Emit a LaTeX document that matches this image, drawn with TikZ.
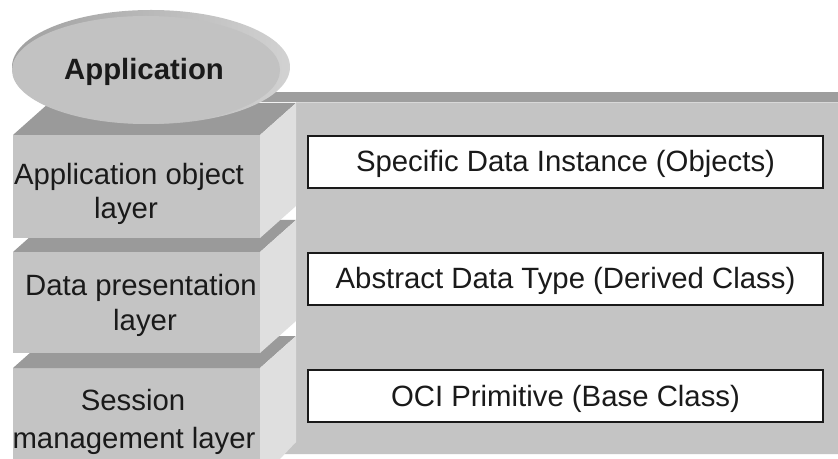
\documentclass[tikz,border=0pt]{standalone}
\usepackage{fontspec}
\setmainfont{Liberation Sans}
\definecolor{facegray}{HTML}{C4C4C4}
\definecolor{topgray}{HTML}{9A9A9A}
\definecolor{sidegray}{HTML}{DFDFDF}
\definecolor{stripgray}{HTML}{9E9E9E}
\definecolor{ellgray}{HTML}{C2C2C2}
\definecolor{rimdark}{HTML}{A0A0A0}
\definecolor{rimlight}{HTML}{D2D2D2}
\definecolor{inkcol}{HTML}{1A1A1A}
\begin{document}
\begin{tikzpicture}[x=0.75pt,y=-0.75pt,
  font=\fontsize{22}{26}\selectfont,
  frontface/.style={fill=facegray},
  topface/.style={fill=topgray},
  sideface/.style={fill=sidegray},
  lbltext/.style={anchor=base, inner sep=0pt, text=inkcol},
  databox/.style={draw=inkcol, line width=1.3pt, fill=white, text=inkcol,
    minimum width=386.25pt, minimum height=39pt, text height=16pt, text depth=1pt, inner sep=0pt}]
\fill[white] (0,0) rectangle (838,459);
\useasboundingbox (0,0) rectangle (838,459);
% back panel
\fill[stripgray] (200,92.5) rectangle (838,102.5);
\fill[facegray] (296,102.5) -- (838,102.5) -- (838,454) -- (281,454) -- (296,442) -- cycle;
% block 3
\fill[frontface] (13,368) rectangle (260,460);
\fill[topface] (13,368) -- (260,368) -- (296,336) -- (49,336) -- cycle;
\fill[sideface] (260,368) -- (296,336) -- (296,442) -- (279,460) -- (260,460) -- cycle;
% block 2
\fill[frontface] (13,252) rectangle (260,353);
\fill[topface] (13,252) -- (260,252) -- (296,220) -- (49,220) -- cycle;
\fill[sideface] (260,252) -- (296,220) -- (296,321) -- (260,353) -- cycle;
% block 1
\fill[frontface] (13,135) rectangle (260,238);
\fill[topface] (13,135) -- (260,135) -- (296,103) -- (49,103) -- cycle;
\fill[sideface] (260,135) -- (296,103) -- (296,206) -- (260,238) -- cycle;
% application disk
\shade[left color=rimdark, middle color=rimdark, right color=rimlight] (151,67) ellipse [x radius=104.25pt, y radius=42.75pt];
\fill[ellgray] (146,70) ellipse [x radius=100.5pt, y radius=40.5pt];
\node[lbltext] (app) at (144,80) {\bfseries Application};
% layer labels
\node[lbltext] (l1a) at (129,185) {Application object};
\node[lbltext] (l1b) at (126,219) {layer};
\node[lbltext] (l2a) at (141,296) {Data presentation};
\node[lbltext] (l2b) at (145,330) {layer};
\node[lbltext] (l3a) at (133,410) {Session};
\node[lbltext] (l3b) at (134,448) {management layer};
% boxes
\node[databox] (b1) at (565.5,162) {Specific Data Instance (Objects)};
\node[databox] (b2) at (565.5,279) {Abstract Data Type (Derived Class)};
\node[databox] (b3) at (565.5,396) {OCI Primitive (Base Class)};
\end{tikzpicture}
\end{document}
